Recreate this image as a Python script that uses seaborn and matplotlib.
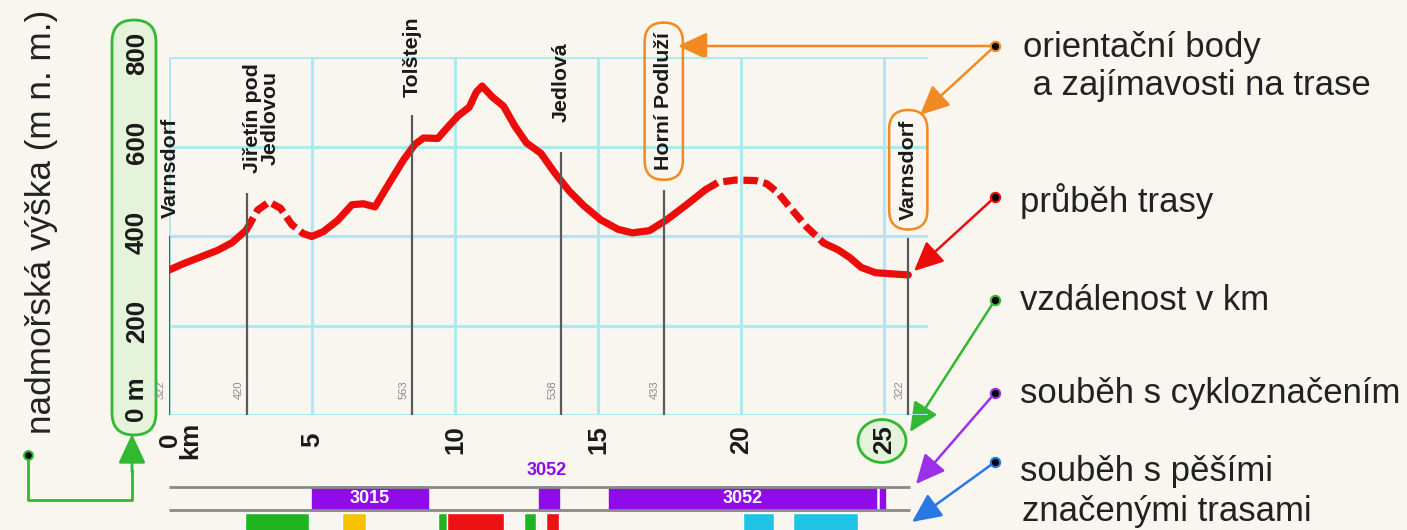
import matplotlib
matplotlib.use("Agg")
import numpy as np
import pandas as pd
import matplotlib.pyplot as plt
import seaborn as sns
from matplotlib import font_manager
from matplotlib.patches import FancyBboxPatch, Ellipse

# Elevation profile of the route (km from start, metres above sea level)
km = [0, 0.5, 1.1, 1.7, 2.2, 2.7, 3.1, 3.5, 3.9, 4.3, 4.7, 5.0, 5.4, 5.9, 6.4, 6.8,
      7.2, 7.7, 8.2, 8.6, 8.9, 9.4, 9.7, 10.1, 10.5, 10.75, 10.95, 11.3, 11.7, 12.1,
      12.5, 13.0, 13.5, 14.0, 14.5, 15.1, 15.7, 16.2, 16.8, 17.4, 18.1, 18.75, 19.2,
      19.8, 20.5, 20.9, 21.3, 21.7, 22.3, 22.9, 23.4, 23.8, 24.2, 24.7, 25.85]
elevation = [324, 338, 353, 368, 385, 413, 458, 476, 462, 425, 405, 399, 410, 435, 470, 472,
             465, 518, 570, 605, 619, 618, 640, 668, 688, 722, 735, 711, 690, 645,
             608, 585, 540, 500, 468, 436, 415, 407, 412, 436, 470, 503, 520,
             525, 524, 517, 496, 465, 420, 384, 369, 352, 330, 318, 313]
# sections of the route drawn dashed
dashed = [(2.7, 5.0), (18.75, 22.9)]

# points of interest along the route
places = ['Varnsdorf', 'Jiřetín pod\nJedlovou', 'Tolštejn', 'Jedlová', 'Horní Podluží', 'Varnsdorf']
place_km = [0, 2.73, 8.5, 13.7, 17.3, 25.85]
place_elev = [322, 420, 563, 538, 433, 322]
line_top = [400, 496, 670, 588, 503, 395]
label_base = [440, 541, 710, 655, 547, 436]
label_dx = [0.05, 0.5, 0, 0, 0, 0]
highlighted = [False, False, False, False, True, True]

# cycle routes running along the trail
cycle_routes = ['3015', '3052', '3052', '']
cycle_from = [5.0, 12.95, 15.38, 24.85]
cycle_to = [9.05, 13.65, 24.72, 25.05]

# marked hiking trails running along the trail
hike_colors = ['green', 'yellow', 'green', 'red', 'green', 'red', 'blue', 'blue']
hike_from = [2.65, 6.05, 9.42, 9.72, 12.4, 13.2, 20.08, 21.83]
hike_to = [4.9, 6.9, 9.72, 11.7, 12.85, 13.65, 21.15, 24.1]

x_ticks = [0, 5, 10, 15, 20, 25]
y_ticks = [0, 200, 400, 600, 800]

legend_texts = ['orientační body', ' a zajímavosti na trase', 'průběh trasy', 'vzdálenost v km',
                'souběh s cykloznačením', 'souběh s pěšími', 'značenými trasami']

bg = '#f8f6ef'
red = '#ec0c0c'
grid_c = '#ade9f1'
purple = '#8e0cea'
orange = '#f28a22'
green = '#33b833'
trail_hex = {'green': '#1fb51f', 'yellow': '#f7c200', 'red': '#ee1111', 'blue': '#20c2e6'}

sns.set_style('white')
names = {f.name for f in font_manager.fontManager.ttflist}
font = 'Liberation Sans Narrow' if 'Liberation Sans Narrow' in names else 'Liberation Sans'
plt.rcParams['font.family'] = [font, 'DejaVu Sans']

fig = plt.figure(figsize=(14.07, 5.30), dpi=100, facecolor=bg)
renderer = fig.canvas.get_renderer()


def fit(t, target, vertical=False):
    bb = t.get_window_extent(renderer)
    size = bb.height if vertical else bb.width
    t.set_fontsize(t.get_fontsize() * target / size)
    return t.get_fontsize()


# pixel overlay for the decorations around the chart
ov = fig.add_axes([0, 0, 1, 1], zorder=0)
ov.set_xlim(0, 1407)
ov.set_ylim(530, 0)
ov.axis('off')

ax = fig.add_axes([169 / 1407, 115 / 530, 759 / 1407, 358 / 530], zorder=1)
ax.patch.set_visible(False)
ax.set_xlim(0, 26.54)
ax.set_ylim(0, 800)
ax.set_xticks(x_ticks)
ax.set_yticks(y_ticks)
ax.grid(True, color=grid_c, lw=2.2)
ax.tick_params(length=0, labelbottom=False, labelleft=False)
sns.despine(ax=ax, left=True, bottom=True)

# elevation profile, solid and dashed parts
df = pd.DataFrame({'km': km, 'elev': elevation})
cuts = sorted({0, km[-1]} | {a for a, b in dashed} | {b for a, b in dashed})
for a, b in zip(cuts[:-1], cuts[1:]):
    seg = df[(df.km >= a) & (df.km <= b)]
    ls = (0, (2.0, 0.8)) if (a, b) in dashed else '-'
    sns.lineplot(data=seg, x='km', y='elev', color=red, lw=5.2, linestyle=ls, ax=ax,
                 solid_capstyle='round', dash_capstyle='butt', solid_joinstyle='round', zorder=3)
ax.set_xlabel('')
ax.set_ylabel('')

# place markers
ax.vlines(place_km, 0, line_top, color='#5a5a5a', lw=1.6, zorder=4)
for name, x, e, base, dx, hl in zip(places, place_km, place_elev, label_base, label_dx, highlighted):
    t = ax.text(x + dx, base, name, rotation=90, ha='center', va='bottom', fontweight='bold',
                fontsize=12, multialignment='center', linespacing=0.95, color='#1a1a1a',
                clip_on=False, zorder=5)
    if hl:
        t.set_bbox(dict(boxstyle='round,pad=0.45,rounding_size=0.9', fc='none', ec=orange, lw=1.8))
    ax.text(x - 0.3, 56, str(e), rotation=90, ha='center', va='center', fontsize=8,
            color='#8a8a8a', clip_on=False, zorder=5)

# axis numbers
tick_fs = None
for v in y_ticks:
    lab = '0 m' if v == 0 else str(v)
    t = ax.text(-1.12, -16 if v == 0 else v + 8, lab, rotation=90, ha='center',
                va='bottom' if v == 0 else 'center', fontweight='bold', fontsize=14,
                color='#1a1a1a', clip_on=False)
    if v == 800:
        tick_fs = fit(t, 43, vertical=True)
for t in ax.texts[-5:]:
    t.set_fontsize(tick_fs)
for v in x_ticks:
    lab = '0\nkm' if v == 0 else str(v)
    ax.text(v + (0.4 if v == 0 else 0), -56, lab, rotation=90, ha='center', va='center',
            fontweight='bold', fontsize=tick_fs, linespacing=0.8, color='#1a1a1a', clip_on=False)

# strips: cycle routes and hiking trails
ax.broken_barh(list(zip(cycle_from, np.subtract(cycle_to, cycle_from))), (-212, 51),
               color=purple, clip_on=False, zorder=2)
for r, a, b in zip(cycle_routes, cycle_from, cycle_to):
    if r and b - a > 2:
        ax.text((a + b) / 2, -186, r, ha='center', va='center', color='white',
                fontweight='bold', fontsize=13, clip_on=False, zorder=3)
    elif r:
        ax.text((a + b) / 2 - 0.1, -123, r, ha='center', va='center', color=purple,
                fontweight='bold', fontsize=13, clip_on=False, zorder=3)
ax.hlines([-161, -212], 0, 25.9, color='#8a8a8a', lw=2, clip_on=False, zorder=4)
ax.broken_barh(list(zip(hike_from, np.subtract(hike_to, hike_from))), (-219, -60),
               facecolors=[trail_hex[c] for c in hike_colors], clip_on=False, zorder=2)

# green box around the height scale and circle around 25 km
ov.add_patch(FancyBboxPatch((112, 20), 44, 415, boxstyle='round,pad=0,rounding_size=22',
                            fc='#e4f3da', ec=green, lw=2))
ov.add_patch(Ellipse((882, 441), 48, 43, fc='#e4f3da', ec=green, lw=2))

t = ov.text(42, 222, 'nadmořská výška (m n. m.)', rotation=90, ha='center', va='center',
            fontsize=22, color='#222222')
fit(t, 422, vertical=True)

arrow = '-|>,head_length=0.9,head_width=0.42'

# bent green arrow from the dot to the height scale
ov.plot([28, 28, 132, 132], [455, 500, 500, 470], color=green, lw=2, solid_joinstyle='round')
ov.annotate('', xy=(132, 434), xytext=(132, 472),
            arrowprops=dict(arrowstyle=arrow, color=green, lw=2, mutation_scale=20,
                            shrinkA=0, shrinkB=0))
ov.scatter([28], [455], s=40, c='black', edgecolors=green, linewidths=1.5, zorder=5)

# legend on the right
dots = [(995, 46, orange), (995, 197, red), (995, 300, green), (995, 393, '#9b30e8'), (995, 462, '#2a78e4')]
tips = [[(678, 46), (920, 115)], [(914, 271)], [(910, 432)], [(916, 484)], [(912, 522)]]
for (dx_, dy_, c), ends in zip(dots, tips):
    for end in ends:
        ov.annotate('', xy=end, xytext=(dx_, dy_),
                    arrowprops=dict(arrowstyle=arrow, color=c, lw=1.8, mutation_scale=20,
                                    shrinkA=0, shrinkB=0))
    ov.scatter([dx_], [dy_], s=45, c='black', edgecolors=c, linewidths=1.5, zorder=5)

legend_pos = [(1023, 47), (1023, 86), (1020, 201), (1020, 300), (1020, 393), (1020, 472), (1022, 511)]
leg = [ov.text(x, y, s, ha='left', va='center', fontsize=20, color='#222222')
       for s, (x, y) in zip(legend_texts, legend_pos)]
leg_fs = fit(leg[4], 380)
for t in leg:
    t.set_fontsize(leg_fs)

# common size for the place names
place_texts = [t for t in ax.texts if t.get_text() in places]
pfs = fit(place_texts[4], 137, vertical=True)
for t in place_texts:
    t.set_fontsize(pfs)

fig.savefig('out.png', dpi=100, facecolor=bg)
